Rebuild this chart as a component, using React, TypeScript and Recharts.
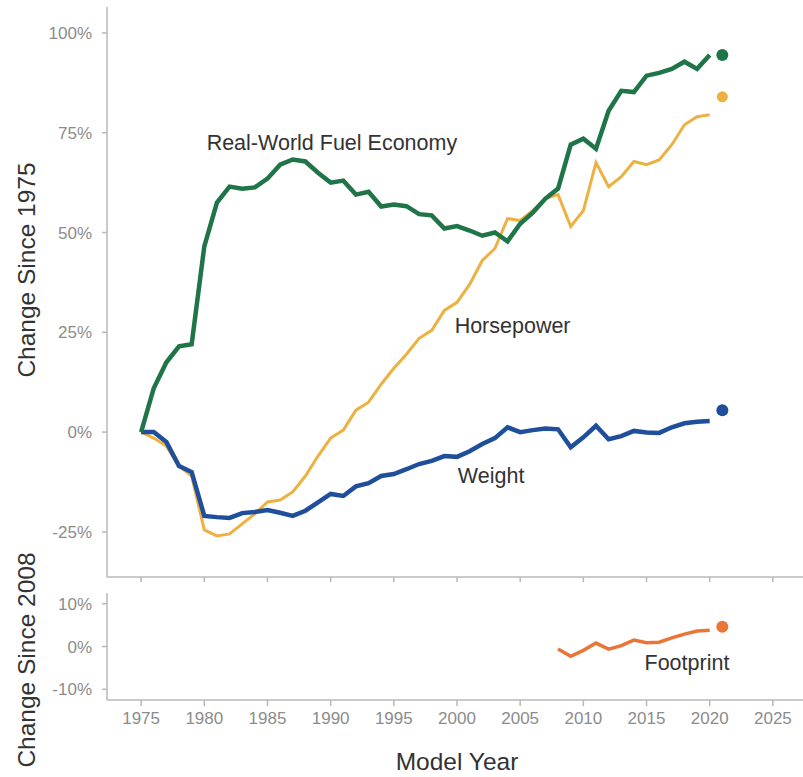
import React from "react";
import {
  LineChart,
  Line,
  XAxis,
  YAxis,
  ReferenceDot,
} from "recharts";

// model years, 1975-2020 final data
const years = [
  1975, 1976, 1977, 1978, 1979, 1980, 1981, 1982, 1983, 1984, 1985, 1986,
  1987, 1988, 1989, 1990, 1991, 1992, 1993, 1994, 1995, 1996, 1997, 1998,
  1999, 2000, 2001, 2002, 2003, 2004, 2005, 2006, 2007, 2008, 2009, 2010,
  2011, 2012, 2013, 2014, 2015, 2016, 2017, 2018, 2019, 2020,
];

// % change since 1975
const fuelEconomy = [
  0, 11, 17.5, 21.5, 22, 46.5, 57.5, 61.5, 61, 61.3, 63.5, 67,
  68.3, 67.8, 65, 62.5, 63, 59.5, 60.2, 56.5, 57, 56.6, 54.6, 54.3,
  51, 51.6, 50.5, 49.2, 50, 47.8, 52.2, 55, 58.5, 61, 72, 73.5,
  71, 80.5, 85.5, 85.2, 89.3, 90, 91, 92.8, 91, 94.5,
];
const horsepower = [
  0, -1.5, -3.5, -8.5, -11, -24.5, -26, -25.5, -23, -20.5, -17.5, -17,
  -15, -11, -6, -1.5, 0.5, 5.5, 7.5, 12, 16, 19.5, 23.5, 25.5,
  30.5, 32.5, 37, 43, 46, 53.5, 53, 55.5, 58.5, 59.5, 51.5, 55.5,
  67.5, 61.5, 64, 67.8, 67, 68.2, 72, 77, 79, 79.5,
];
const weight = [
  0, 0, -2.5, -8.5, -10, -21, -21.3, -21.5, -20.3, -20, -19.5, -20.2,
  -21, -19.7, -17.6, -15.5, -16, -13.6, -12.8, -11, -10.5, -9.3, -8, -7.2,
  -6, -6.2, -4.8, -3, -1.5, 1.2, 0, 0.5, 0.9, 0.7, -3.8, -1.3,
  1.6, -1.8, -1, 0.3, -0.1, -0.2, 1.2, 2.2, 2.6, 2.8,
];

// % change since 2008
const footprintYears = [
  2008, 2009, 2010, 2011, 2012, 2013, 2014, 2015, 2016, 2017, 2018, 2019, 2020,
];
const footprint = [
  -0.6, -2.3, -0.9, 0.8, -0.6, 0.2, 1.5, 0.9, 1.0, 2.0, 2.9, 3.6, 3.8,
];

// preliminary 2021 values (dots)
const prelimYear = 2021;
const prelimFuelEconomy = 94.5;
const prelimHorsepower = 84;
const prelimWeight = 5.5;
const prelimFootprint = 4.6;

const xTicks = [1975, 1980, 1985, 1990, 1995, 2000, 2005, 2010, 2015, 2020, 2025];
const topTicks = [-25, 0, 25, 50, 75, 100];
const bottomTicks = [-10, 0, 10];

const GREEN = "#1f7547";
const GOLD = "#edb142";
const BLUE = "#1f4f9b";
const ORANGE = "#e97637";
const AXIS = "#b8b8b8";
const TICK = "#8c8c8c";
const INK = "#333333";

const X_DOMAIN: [number, number] = [1972.3, 2027.7];

const rows = years.map((year, i) => ({
  year,
  fuel: fuelEconomy[i],
  hp: horsepower[i],
  weight: weight[i],
}));
const prelimRows = [
  { year: prelimYear, fuel: prelimFuelEconomy, hp: prelimHorsepower, weight: prelimWeight },
];
const footprintRows = footprintYears.map((year, i) => ({ year, fp: footprint[i] }));
const prelimFootprintRows = [{ year: prelimYear, fp: prelimFootprint }];

const pct = (v: number) => `${v}%`;
const tickStyle = { fontSize: 17, fill: TICK };
const labelStyle = { fontSize: 21.5, fill: INK };

const title: React.CSSProperties = {
  position: "absolute",
  whiteSpace: "nowrap",
  fontSize: 24.5,
  color: INK,
};

export default function App() {
  return (
    <div
      style={{
        position: "absolute",
        left: 0,
        top: 0,
        width: 803,
        height: 777,
        overflow: "hidden",
        background: "#fff",
        fontFamily: "'Liberation Sans', Arial, sans-serif",
      }}
    >
      <div style={{ position: "absolute", left: 0, top: 0 }}>
        <LineChart
          width={810}
          height={600}
          data={rows}
          margin={{ top: 7, right: 3, left: 0, bottom: 3 }}
        >
          <XAxis
            dataKey="year"
            type="number"
            domain={X_DOMAIN}
            ticks={xTicks}
            tickFormatter={() => ""}
            tickSize={5}
            height={20}
            stroke={AXIS}
            strokeWidth={1.5}
          />
          <XAxis
            xAxisId="top"
            orientation="top"
            type="number"
            domain={X_DOMAIN}
            tick={false}
            tickLine={false}
            height={0}
            stroke={AXIS}
            strokeWidth={1.5}
          />
          <YAxis
            type="number"
            domain={[-36.3, 106.5]}
            ticks={topTicks}
            tickFormatter={pct}
            width={107}
            tickSize={5}
            tickMargin={10}
            tick={tickStyle}
            stroke={AXIS}
            strokeWidth={1.5}
          />
          <Line
            dataKey="hp"
            stroke={GOLD}
            strokeWidth={3}
            dot={false}
            isAnimationActive={false}
          />
          <Line
            dataKey="weight"
            stroke={BLUE}
            strokeWidth={4.5}
            dot={false}
            isAnimationActive={false}
          />
          <Line
            dataKey="fuel"
            stroke={GREEN}
            strokeWidth={4.5}
            dot={false}
            isAnimationActive={false}
          />
          <Line
            data={prelimRows}
            dataKey="fuel"
            stroke="none"
            dot={{ r: 6, fill: GREEN, strokeWidth: 0 }}
            isAnimationActive={false}
          />
          <Line
            data={prelimRows}
            dataKey="hp"
            stroke="none"
            dot={{ r: 5.5, fill: GOLD, strokeWidth: 0 }}
            isAnimationActive={false}
          />
          <Line
            data={prelimRows}
            dataKey="weight"
            stroke="none"
            dot={{ r: 6, fill: BLUE, strokeWidth: 0 }}
            isAnimationActive={false}
          />
          <ReferenceDot
            x={1990.1}
            y={72.7}
            r={0}
            fill="none"
            stroke="none"
            label={{ value: "Real-World Fuel Economy", position: "center", ...labelStyle }}
          />
          <ReferenceDot
            x={2004.4}
            y={26.8}
            r={0}
            fill="none"
            stroke="none"
            label={{ value: "Horsepower", position: "center", ...labelStyle }}
          />
          <ReferenceDot
            x={2002.7}
            y={-10.8}
            r={0}
            fill="none"
            stroke="none"
            label={{ value: "Weight", position: "center", ...labelStyle }}
          />
        </LineChart>
      </div>

      <div style={{ position: "absolute", left: 0, top: 585 }}>
        <LineChart
          width={810}
          height={150}
          data={footprintRows}
          margin={{ top: 8, right: 3, left: 0, bottom: 0 }}
        >
          <XAxis
            dataKey="year"
            type="number"
            domain={X_DOMAIN}
            ticks={xTicks}
            tickSize={6}
            tickMargin={6}
            height={35}
            tick={tickStyle}
            stroke={AXIS}
            strokeWidth={1.5}
          />
          <XAxis
            xAxisId="top"
            orientation="top"
            type="number"
            domain={X_DOMAIN}
            tick={false}
            tickLine={false}
            height={0}
            stroke={AXIS}
            strokeWidth={1.5}
          />
          <YAxis
            type="number"
            domain={[-12.5, 12.5]}
            ticks={bottomTicks}
            tickFormatter={pct}
            width={107}
            tickSize={5}
            tickMargin={10}
            tick={tickStyle}
            stroke={AXIS}
            strokeWidth={1.5}
          />
          <Line
            dataKey="fp"
            stroke={ORANGE}
            strokeWidth={3.5}
            dot={false}
            isAnimationActive={false}
          />
          <Line
            data={prelimFootprintRows}
            dataKey="fp"
            stroke="none"
            dot={{ r: 6, fill: ORANGE, strokeWidth: 0 }}
            isAnimationActive={false}
          />
          <ReferenceDot
            x={2018.2}
            y={-3.7}
            r={0}
            fill="none"
            stroke="none"
            label={{ value: "Footprint", position: "center", ...labelStyle }}
          />
        </LineChart>
      </div>

      <div style={{ ...title, left: 27, top: 270, transform: "translate(-50%, -50%) rotate(-90deg)" }}>
        Change Since 1975
      </div>
      <div style={{ ...title, left: 27, top: 660, transform: "translate(-50%, -50%) rotate(-90deg)" }}>
        Change Since 2008
      </div>
      <div style={{ ...title, left: 457, top: 762, transform: "translate(-50%, -50%)" }}>
        Model Year
      </div>
    </div>
  );
}
